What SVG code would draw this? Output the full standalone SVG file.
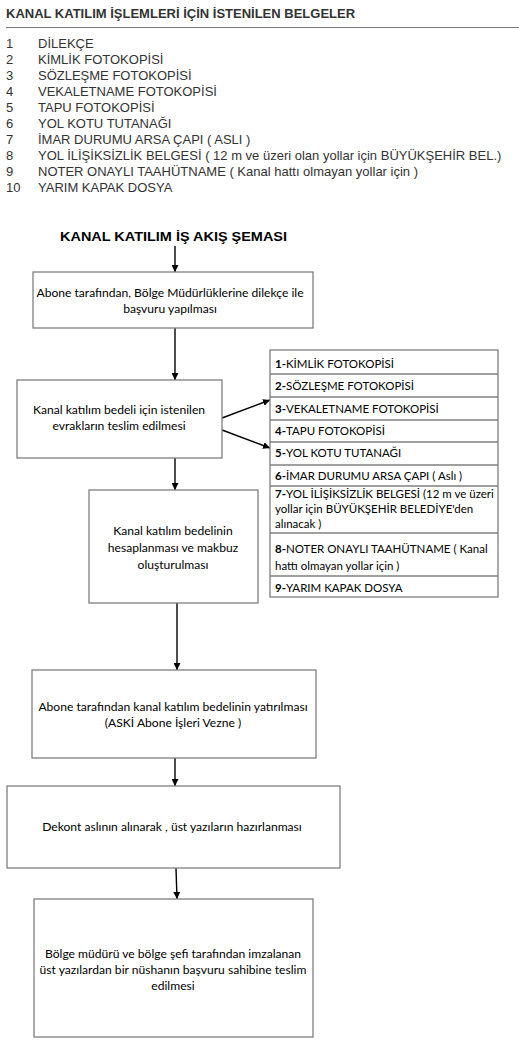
<svg xmlns="http://www.w3.org/2000/svg" width="519" height="1041" viewBox="0 0 519 1041">
<defs>
<marker id="ah" viewBox="0 0 10 10" refX="10" refY="5" markerWidth="7" markerHeight="7" markerUnits="userSpaceOnUse" orient="auto">
<path d="M0,0 L10,5 L0,10 z" fill="#000"/>
</marker>
</defs>
<style>
.hd{font-family:"Liberation Sans",Arial,sans-serif;font-size:13px;font-weight:bold;fill:#333}
.li{font-family:"Liberation Sans",Arial,sans-serif;font-size:13px;fill:#333}
.ttl{font-family:"Liberation Sans",Arial,sans-serif;font-size:12.5px;font-weight:bold;fill:#000}
.bx{fill:#fff;stroke:#7f7f7f;stroke-width:1.3}
.bt{font-family:Lato,"Open Sans",sans-serif;font-size:12.1px;fill:#000;text-anchor:middle}
.rt{font-family:Lato,"Open Sans",sans-serif;font-size:11.5px;fill:#000}
.rt tspan.b{font-weight:bold}
.cn{stroke:#000;stroke-width:1.4;fill:none;marker-end:url(#ah)}
</style>
<rect width="519" height="1041" fill="#fff"/>
<g id="header">
<text class="hd" x="6" y="18">KANAL KATILIM İŞLEMLERİ İÇİN İSTENİLEN BELGELER</text>
<line x1="6" y1="27.5" x2="519" y2="27.5" stroke="#777" stroke-width="1"/>
</g>
<g id="list">
<text class="li" x="6" y="48">1</text><text class="li" x="38" y="48">DİLEKÇE</text>
<text class="li" x="6" y="64">2</text><text class="li" x="38" y="64">KİMLİK FOTOKOPİSİ</text>
<text class="li" x="6" y="80">3</text><text class="li" x="38" y="80">SÖZLEŞME FOTOKOPİSİ</text>
<text class="li" x="6" y="96">4</text><text class="li" x="38" y="96">VEKALETNAME FOTOKOPİSİ</text>
<text class="li" x="6" y="112">5</text><text class="li" x="38" y="112">TAPU FOTOKOPİSİ</text>
<text class="li" x="6" y="128">6</text><text class="li" x="38" y="128">YOL KOTU TUTANAĞI</text>
<text class="li" x="6" y="144">7</text><text class="li" x="38" y="144">İMAR DURUMU ARSA ÇAPI ( ASLI )</text>
<text class="li" x="6" y="160">8</text><text class="li" x="38" y="160">YOL İLİŞİKSİZLİK BELGESİ ( 12 m ve üzeri olan yollar için BÜYÜKŞEHİR BEL.)</text>
<text class="li" x="6" y="176">9</text><text class="li" x="38" y="176">NOTER ONAYLI TAAHÜTNAME ( Kanal hattı olmayan yollar için )</text>
<text class="li" x="6" y="192">10</text><text class="li" x="38" y="192">YARIM KAPAK DOSYA</text>
</g>
<g id="title">
<text class="ttl" x="60" y="241" textLength="227" lengthAdjust="spacingAndGlyphs">KANAL KATILIM İŞ AKIŞ ŞEMASI</text>
</g>
<g id="connectors">
<line class="cn" x1="175" y1="246" x2="175" y2="272"/>
<line class="cn" x1="175" y1="328" x2="175" y2="380"/>
<line class="cn" x1="222" y1="418" x2="270" y2="400"/>
<line class="cn" x1="222" y1="430" x2="270" y2="448"/>
<line class="cn" x1="175" y1="458" x2="175" y2="490"/>
<line class="cn" x1="177" y1="603" x2="177" y2="670"/>
<line class="cn" x1="175" y1="758" x2="175" y2="786"/>
<line class="cn" x1="176" y1="868" x2="177" y2="899"/>
</g>
<g id="box1">
<rect class="bx" x="33" y="272" width="280" height="56"/>
<text class="bt" x="170" y="297">Abone tarafından, Bölge Müdürlüklerine dilekçe ile</text>
<text class="bt" x="170" y="313">başvuru yapılması</text>
</g>
<g id="box2">
<rect class="bx" x="17" y="380" width="205" height="78"/>
<text class="bt" x="119" y="414">Kanal katılım bedeli için istenilen</text>
<text class="bt" x="119" y="430">evrakların teslim edilmesi</text>
</g>
<g id="documents">
<rect class="bx" x="270" y="350" width="228" height="247"/>
<g stroke="#7f7f7f" stroke-width="1.3">
<line x1="270" y1="374" x2="498" y2="374"/>
<line x1="270" y1="397" x2="498" y2="397"/>
<line x1="270" y1="420" x2="498" y2="420"/>
<line x1="270" y1="442" x2="498" y2="442"/>
<line x1="270" y1="465" x2="498" y2="465"/>
<line x1="270" y1="486" x2="498" y2="486"/>
<line x1="270" y1="533" x2="498" y2="533"/>
<line x1="270" y1="576" x2="498" y2="576"/>
</g>
<text class="rt" x="275" y="368"><tspan class="b">1-</tspan>KİMLİK FOTOKOPİSİ</text>
<text class="rt" x="275" y="390"><tspan class="b">2-</tspan>SÖZLEŞME FOTOKOPİSİ</text>
<text class="rt" x="275" y="413"><tspan class="b">3-</tspan>VEKALETNAME FOTOKOPİSİ</text>
<text class="rt" x="275" y="435"><tspan class="b">4-</tspan>TAPU FOTOKOPİSİ</text>
<text class="rt" x="275" y="457"><tspan class="b">5-</tspan>YOL KOTU TUTANAĞI</text>
<text class="rt" x="275" y="480"><tspan class="b">6-</tspan>İMAR DURUMU ARSA ÇAPI ( Aslı )</text>
<text class="rt" x="275" y="498"><tspan class="b">7-</tspan>YOL İLİŞİKSİZLİK BELGESİ (12 m ve üzeri</text>
<text class="rt" x="275" y="513">yollar için BÜYÜKŞEHİR BELEDİYE'den</text>
<text class="rt" x="275" y="528">alınacak )</text>
<text class="rt" x="275" y="553"><tspan class="b">8-</tspan>NOTER ONAYLI TAAHÜTNAME ( Kanal</text>
<text class="rt" x="275" y="570">hattı olmayan yollar için )</text>
<text class="rt" x="275" y="592"><tspan class="b">9-</tspan>YARIM KAPAK DOSYA</text>
</g>
<g id="box3">
<rect class="bx" x="89" y="490" width="169" height="113"/>
<text class="bt" x="173" y="535">Kanal katılım bedelinin</text>
<text class="bt" x="173" y="552">hesaplanması ve makbuz</text>
<text class="bt" x="173" y="569">oluşturulması</text>
</g>
<g id="box4">
<rect class="bx" x="32" y="670" width="284" height="88"/>
<text class="bt" x="173" y="711">Abone tarafından kanal katılım bedelinin yatırılması</text>
<text class="bt" x="173" y="727">(ASKİ Abone İşleri Vezne )</text>
</g>
<g id="box5">
<rect class="bx" x="7" y="786" width="333" height="82"/>
<text class="bt" x="172" y="831">Dekont aslının alınarak , üst yazıların hazırlanması</text>
</g>
<g id="box6">
<rect class="bx" x="34" y="899" width="279" height="138"/>
<text class="bt" x="173" y="958">Bölge müdürü ve bölge şefi tarafından imzalanan</text>
<text class="bt" x="173" y="974">üst yazılardan bir nüshanın başvuru sahibine teslim</text>
<text class="bt" x="173" y="990">edilmesi</text>
</g>
</svg>
